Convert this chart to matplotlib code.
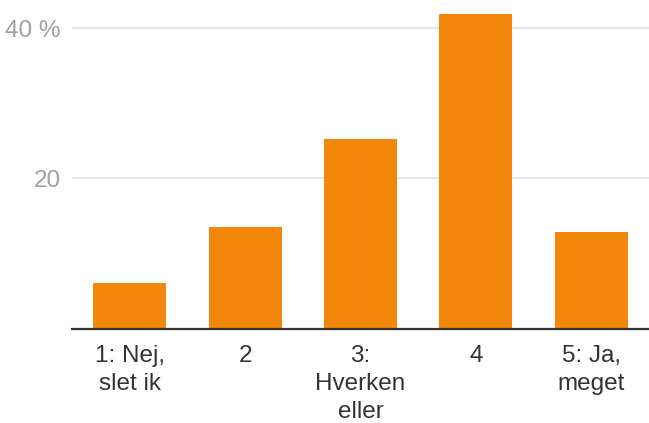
import matplotlib.pyplot as plt
from matplotlib.ticker import FuncFormatter

# survey answers, share in percent
categories = ["1: Nej,\nslet ik", "2", "3:\nHverken\neller", "4", "5: Ja,\nmeget"]
values = [6.1, 13.5, 25.2, 41.9, 12.9]
yticks = [20, 40]

plt.rcParams['font.family'] = ['Liberation Sans', 'DejaVu Sans']

fig = plt.figure(figsize=(6.49, 4.23), dpi=100)
ax = fig.add_axes([72 / 649, (423 - 328.5) / 423, 1 - 72 / 649, 328.5 / 423])

x = range(len(categories))
ax.bar(x, values, width=0.632, color='#F3870A', zorder=3)

ax.set_xlim(-0.5, len(categories) - 0.5)
ax.set_ylim(0, 43.8)

ax.set_yticks(yticks)
ax.yaxis.set_major_formatter(FuncFormatter(lambda v, p: f"{v:.0f} %" if v == 40 else f"{v:.0f}"))
ax.grid(axis='y', color='#e6e6e6', linewidth=1.6, zorder=0)
ax.tick_params(axis='y', length=0, pad=8, labelsize=17.5, labelcolor='#a0a0a0')

ax.set_xticks(list(x))
ax.set_xticklabels(categories, linespacing=1.35)
ax.tick_params(axis='x', length=0, pad=12, labelsize=17.5, labelcolor='#333333')

for s in ['top', 'right', 'left']:
    ax.spines[s].set_visible(False)
ax.spines['bottom'].set_color('#333333')
ax.spines['bottom'].set_linewidth(1.6)
ax.spines['bottom'].set_zorder(4)

fig.savefig('out.png', dpi=100)
